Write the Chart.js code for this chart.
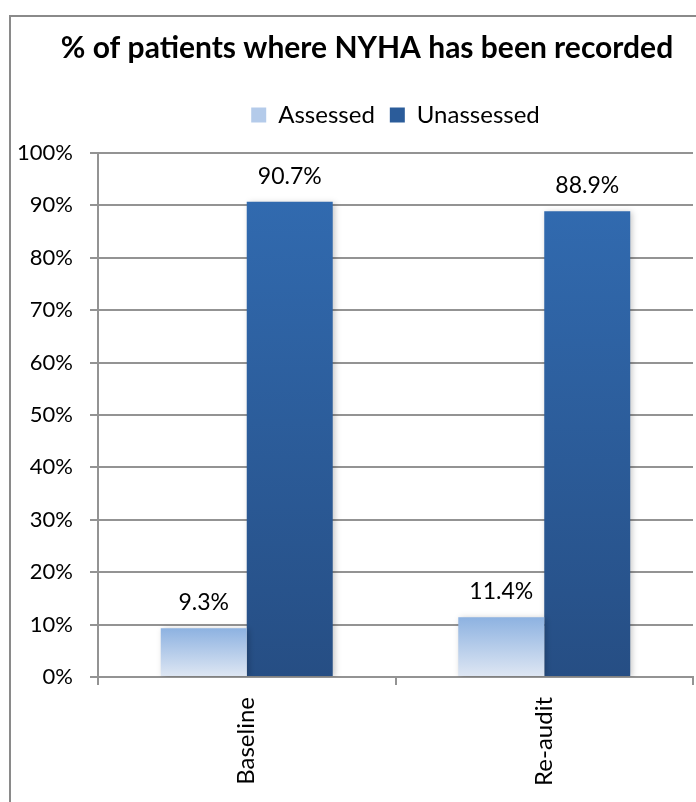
<!DOCTYPE html>
<html>
<head>
<meta charset="utf-8">
<script src="https://cdn.jsdelivr.net/npm/chart.js@4.4.1/dist/chart.umd.min.js"></script>
<style>
  html, body { margin: 0; padding: 0; background: #ffffff; }
  #wrap { width: 696px; height: 802px; position: relative; }
</style>
</head>
<body>
<div id="wrap"><canvas id="chart" width="696" height="802"></canvas></div>
<script>
// Audit rounds and NYHA recording shares (percent of patients)
const categories = ['Baseline', 'Re-audit'];
const assessed = [9.3, 11.4];
const unassessed = [90.7, 88.9];
const seriesNames = ['Assessed', 'Unassessed'];
const yTicks = [0, 10, 20, 30, 40, 50, 60, 70, 80, 90, 100];
const chartTitle = '% of patients where NYHA has been recorded';

const FONT = 'Lato, "Liberation Sans", sans-serif';
const AXIS_GREY = '#939393';

// Vertical gradient for a bar, running from its top to the zero line
function barGradient(colTop, colBottom) {
  return (ctx) => {
    const chart = ctx.chart;
    if (!chart.chartArea || ctx.raw === undefined) return colTop;
    const y = chart.scales.y;
    const top = y.getPixelForValue(ctx.raw);
    const bottom = y.getPixelForValue(0);
    if (!isFinite(top) || !isFinite(bottom) || top === bottom) return colTop;
    const g = chart.ctx.createLinearGradient(0, top, 0, bottom);
    g.addColorStop(0, colTop);
    g.addColorStop(1, colBottom);
    return g;
  };
}

// Heading band across the top of the frame (title text, centred in the frame)
function makeHeadingBox() {
  return {
    id: 'heading',
    position: 'top',
    weight: 2000,
    fullSize: true,
    options: {},
    isHorizontal() { return true; },
    update(maxWidth) { this.width = maxWidth; this.height = 88; return { width: this.width, height: this.height }; },
    draw() {
      const c = this.chart.ctx;
      c.save();
      c.font = 'bold 30px ' + FONT;
      c.fillStyle = '#000000';
      c.textAlign = 'center';
      c.textBaseline = 'middle';
      c.fillText(chartTitle, 367, this.top + 48);
      c.restore();
    }
  };
}

// Blank band between the legend and the plot area
function makeSpacerBox() {
  return {
    id: 'spacer',
    position: 'top',
    weight: 10,
    fullSize: false,
    options: {},
    isHorizontal() { return true; },
    update(maxWidth) { this.width = maxWidth; this.height = 16; return { width: this.width, height: this.height }; },
    draw() {}
  };
}

const layoutBands = {
  id: 'layoutBands',
  beforeInit(chart) {
    const head = makeHeadingBox();
    head.chart = chart;
    const spacer = makeSpacerBox();
    spacer.chart = chart;
    Chart.layouts.addBox(chart, head);
    Chart.layouts.addBox(chart, spacer);
  }
};

// Outer frame of the chart box
const framePlugin = {
  id: 'frame',
  beforeDraw(chart) {
    const c = chart.ctx;
    c.save();
    c.fillStyle = '#ffffff';
    c.fillRect(0, 0, chart.width, chart.height);
    c.strokeStyle = '#8a8a8a';
    c.lineWidth = 2;
    c.strokeRect(10, 16, chart.width + 20, chart.height + 20);
    c.restore();
  }
};

// Soft drop shadow behind the bars
const shadowPlugin = {
  id: 'barShadow',
  beforeDatasetsDraw(chart) {
    const c = chart.ctx;
    c.save();
    c.shadowColor = 'rgba(0,0,0,0.22)';
    c.shadowBlur = 6;
    c.shadowOffsetX = 2;
    c.shadowOffsetY = 1;
  },
  afterDatasetsDraw(chart) {
    chart.ctx.restore();
  }
};

// Value labels above each bar
const valueLabels = {
  id: 'valueLabels',
  afterDatasetsDraw(chart) {
    const c = chart.ctx;
    c.save();
    c.font = '23px ' + FONT;
    c.fillStyle = '#000000';
    c.textAlign = 'center';
    c.textBaseline = 'alphabetic';
    chart.data.datasets.forEach((ds, di) => {
      const meta = chart.getDatasetMeta(di);
      meta.data.forEach((bar, i) => {
        c.fillText(ds.data[i].toFixed(1) + '%', bar.x, bar.y - 18);
      });
    });
    c.restore();
  }
};

new Chart(document.getElementById('chart'), {
  type: 'bar',
  data: {
    labels: categories,
    datasets: [
      {
        label: seriesNames[0],
        data: assessed,
        backgroundColor: barGradient('#8db2e1', '#dfe7f3'),
        borderWidth: 0,
        categoryPercentage: 0.578,
        barPercentage: 1.0
      },
      {
        label: seriesNames[1],
        data: unassessed,
        backgroundColor: barGradient('#316aaf', '#264e84'),
        borderWidth: 0,
        categoryPercentage: 0.578,
        barPercentage: 1.0
      }
    ]
  },
  options: {
    responsive: false,
    animation: false,
    devicePixelRatio: 1,
    layout: { padding: { left: 0, right: 3, top: 0, bottom: 0 } },
    plugins: {
      title: { display: false },
      legend: {
        display: true,
        position: 'top',
        fullSize: false,
        labels: {
          color: '#000000',
          font: { family: FONT, size: 24 },
          boxWidth: 15,
          boxHeight: 15,
          padding: 15,
          generateLabels(chart) {
            const fills = ['#b4cbea', '#2b5c9a'];
            return chart.data.datasets.map((ds, i) => ({
              text: ds.label,
              fillStyle: fills[i],
              strokeStyle: fills[i],
              lineWidth: 0,
              datasetIndex: i,
              hidden: false
            }));
          }
        }
      },
      tooltip: { enabled: false }
    },
    scales: {
      x: {
        offset: true,
        afterFit(scale) { scale.height = 125; },
        grid: {
          offset: true,
          drawOnChartArea: false,
          drawTicks: true,
          tickLength: 8,
          color: AXIS_GREY,
          lineWidth: 2
        },
        border: { display: true, color: AXIS_GREY, width: 2 },
        ticks: {
          color: '#000000',
          font: { family: FONT, size: 24 },
          minRotation: 90,
          maxRotation: 90,
          padding: 12
        }
      },
      y: {
        min: 0,
        max: 100,
        afterFit(scale) { scale.width = 98; },
        afterBuildTicks(scale) {
          scale.ticks = yTicks.map(v => ({ value: v }));
        },
        grid: {
          color: AXIS_GREY,
          lineWidth: 2,
          tickLength: 8,
          drawTicks: true
        },
        border: { display: true, color: AXIS_GREY, width: 2 },
        ticks: {
          color: '#000000',
          font: { family: FONT, size: 22 },
          padding: 17,
          callback: (v) => v + '%'
        }
      }
    }
  },
  plugins: [layoutBands, framePlugin, shadowPlugin, valueLabels]
});
</script>
</body>
</html>
